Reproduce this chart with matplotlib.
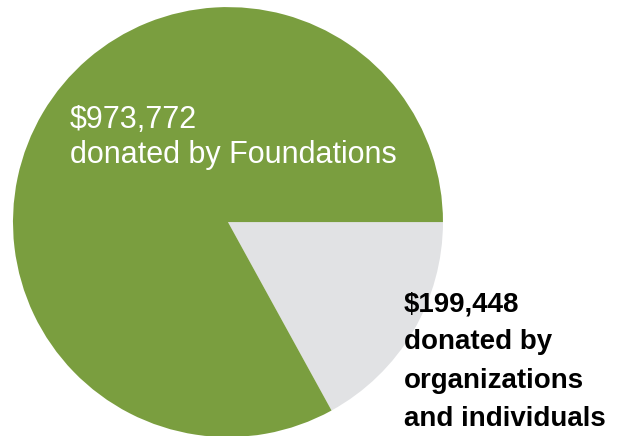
import matplotlib.pyplot as plt

# donation totals (USD)
labels = ["organizations and individuals", "Foundations"]
amounts = [199448, 973772]
colors = ["#e1e2e4", "#7a9e3f"]

fig = plt.figure(figsize=(6.23, 4.36), dpi=100)
ax = fig.add_axes([0, 0, 1, 1])
ax.pie(amounts, colors=colors, startangle=0, counterclock=False,
       radius=1.0, wedgeprops=dict(linewidth=0))
ax.set_xlim(-1.06, 1.837)
ax.set_ylim(-0.995, 1.033)
ax.set_aspect("equal")
ax.axis("off")

fig.text(70 / 623, 1 - 105 / 436,
         "${:,}\ndonated by {}".format(amounts[1], labels[1]),
         color="white", fontsize=22, family="Liberation Sans",
         va="top", ha="left", linespacing=1.2)
fig.text(404 / 623, 1 - 291 / 436,
         "${:,}\ndonated by\norganizations\nand individuals".format(amounts[0]),
         color="black", fontsize=20, family="Liberation Sans", fontweight="bold",
         va="top", ha="left", linespacing=1.62)

fig.savefig("out.png", dpi=100)
